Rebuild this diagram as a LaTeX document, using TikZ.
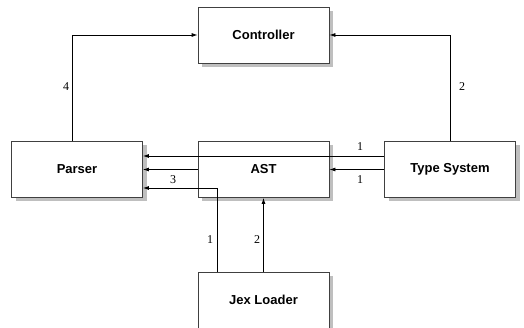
\documentclass[tikz,border=0pt]{standalone}
\usepackage{fontspec}
\setmainfont{Liberation Serif}
\setsansfont{Liberation Sans}
\usetikzlibrary{arrows.meta}
\begin{document}
\begin{tikzpicture}[x=1pt,y=-1pt,
  box/.style={draw=black!75,line width=0.8pt,fill=white,minimum width=131pt,minimum height=56pt,inner sep=0pt,
    font=\sffamily\bfseries\fontsize{13}{15}\selectfont},
  arr/.style={draw=black,line width=0.8pt,-{Latex[length=6pt,width=4pt]}},
  lbl/.style={font=\fontsize{12}{14}\selectfont,inner sep=0pt}]
\useasboundingbox (0,0) rectangle (524,328);
% shadows
\foreach \cx/\cy in {263.5/35, 77/169.5, 263.5/169.5, 450/169.5, 263.5/300}
  \fill[black!25] (\cx-65.5+4,\cy-28+4) rectangle (\cx+65.5+4,\cy+28+4);
\node[box] (ctrl) at (263.5,35) {Controller};
\node[box] (parser) at (77,169.5) {Parser};
\node[box] (ast) at (263.5,169.5) {AST};
\node[box] (ts) at (450,169.5) {Type System};
\node[box] (jex) at (263.5,300) {Jex Loader};
\draw[arr] ([xshift=-5pt]parser.north) |- (ctrl.west);
\draw[arr] (ts.north) |- (ctrl.east);
\draw[arr] ([yshift=13.5pt]ts.west) -- ([yshift=13.5pt]parser.east);
\draw[arr] (ts.west) -- (ast.east);
\draw[arr] (ast.west) -- (parser.east);
\draw[arr] ([xshift=-46.5pt]jex.north) |- ([yshift=-18.5pt]parser.east);
\draw[arr] (jex.north) -- (ast.south);
\node[lbl] (l4) at (66,87) {4};
\node[lbl] (l2a) at (462,87) {2};
\node[lbl] (l1a) at (360,147) {1};
\node[lbl] (l1b) at (360,180) {1};
\node[lbl] (l3) at (173,180) {3};
\node[lbl] (l1c) at (210,240) {1};
\node[lbl] (l2b) at (257,240) {2};
\end{tikzpicture}
\end{document}
